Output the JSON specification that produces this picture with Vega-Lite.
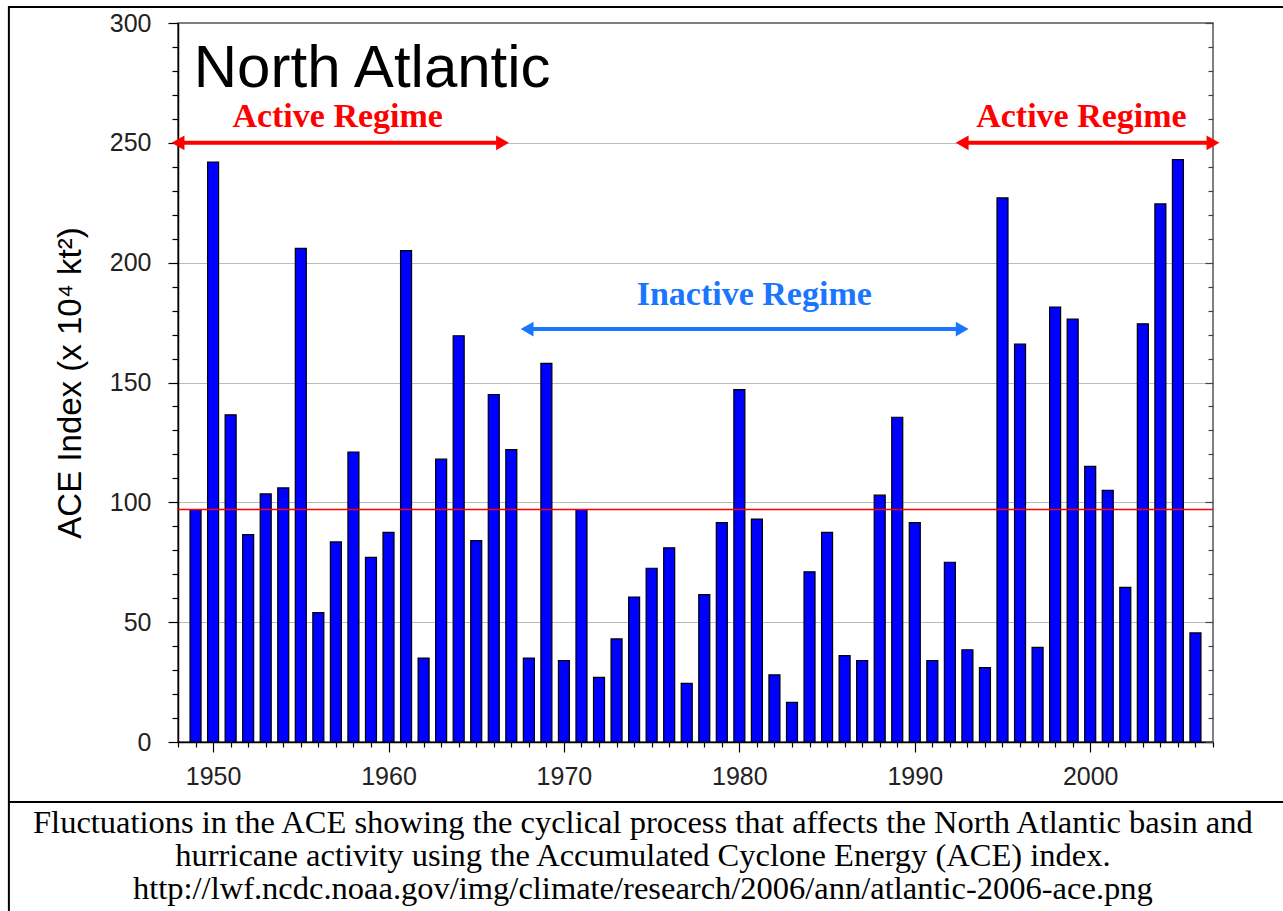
{
  "$schema": "https://vega.github.io/schema/vega-lite/v6.json",
  "width": 1035,
  "height": 719,
  "autosize": {"type": "none"},
  "padding": {"left": 178, "top": 23, "right": 70, "bottom": 169},
  "background": "white",
  "config": {
    "view": {"stroke": "#555555", "strokeWidth": 1.5},
    "font": "Liberation Sans"
  },
  "datasets": {
    "ace": [
      {"year": 1949, "ace": 97}, {"year": 1950, "ace": 242}, {"year": 1951, "ace": 136.5},
      {"year": 1952, "ace": 86.5}, {"year": 1953, "ace": 103.5}, {"year": 1954, "ace": 106},
      {"year": 1955, "ace": 206}, {"year": 1956, "ace": 54}, {"year": 1957, "ace": 83.5},
      {"year": 1958, "ace": 121}, {"year": 1959, "ace": 77}, {"year": 1960, "ace": 87.5},
      {"year": 1961, "ace": 205}, {"year": 1962, "ace": 35}, {"year": 1963, "ace": 118},
      {"year": 1964, "ace": 169.5}, {"year": 1965, "ace": 84}, {"year": 1966, "ace": 145},
      {"year": 1967, "ace": 122}, {"year": 1968, "ace": 35}, {"year": 1969, "ace": 158},
      {"year": 1970, "ace": 34}, {"year": 1971, "ace": 97}, {"year": 1972, "ace": 27},
      {"year": 1973, "ace": 43}, {"year": 1974, "ace": 60.5}, {"year": 1975, "ace": 72.5},
      {"year": 1976, "ace": 81}, {"year": 1977, "ace": 24.5}, {"year": 1978, "ace": 61.5},
      {"year": 1979, "ace": 91.5}, {"year": 1980, "ace": 147}, {"year": 1981, "ace": 93},
      {"year": 1982, "ace": 28}, {"year": 1983, "ace": 16.5}, {"year": 1984, "ace": 71},
      {"year": 1985, "ace": 87.5}, {"year": 1986, "ace": 36}, {"year": 1987, "ace": 34},
      {"year": 1988, "ace": 103}, {"year": 1989, "ace": 135.5}, {"year": 1990, "ace": 91.5},
      {"year": 1991, "ace": 34}, {"year": 1992, "ace": 75}, {"year": 1993, "ace": 38.5},
      {"year": 1994, "ace": 31}, {"year": 1995, "ace": 227}, {"year": 1996, "ace": 166},
      {"year": 1997, "ace": 39.5}, {"year": 1998, "ace": 181.5}, {"year": 1999, "ace": 176.5},
      {"year": 2000, "ace": 115}, {"year": 2001, "ace": 105}, {"year": 2002, "ace": 64.5},
      {"year": 2003, "ace": 174.5}, {"year": 2004, "ace": 224.5}, {"year": 2005, "ace": 243},
      {"year": 2006, "ace": 45.5}
    ],
    "regimes": [
      {"regime": "Active Regime", "start": 1948, "end": 1966.5, "level": 250, "labelYear": 1957.1, "labelLevel": 256.5},
      {"regime": "Inactive Regime", "start": 1967.9, "end": 1992.7, "level": 172.3, "labelYear": 1980.85, "labelLevel": 182.3},
      {"regime": "Active Regime", "start": 1992.7, "end": 2007, "level": 250, "labelYear": 1999.5, "labelLevel": 256.5}
    ],
    "one": [{"item": "decoration"}]
  },
  "layer": [
    {
      "data": {"name": "one"},
      "mark": {"type": "rect", "fill": null, "filled": false, "stroke": "black", "strokeWidth": 2, "clip": false},
      "encoding": {
        "x": {"datum": 1938.36, "type": "quantitative", "axis": null, "scale": {"domain": [1948, 2007], "nice": false, "zero": false, "padding": 0}},
        "x2": {"datum": 2011.8},
        "y": {"datum": 306.7, "type": "quantitative", "axis": null, "scale": {"domain": [0, 300], "nice": false, "padding": 0}},
        "y2": {"datum": -75}
      }
    },
    {
      "data": {"name": "one"},
      "mark": {"type": "rule", "stroke": "black", "strokeWidth": 2, "clip": false},
      "encoding": {
        "x": {"datum": 1938.36, "type": "quantitative", "axis": null, "scale": {"domain": [1948, 2007], "nice": false, "zero": false, "padding": 0}},
        "x2": {"datum": 2011.8},
        "y": {"datum": -25, "type": "quantitative", "axis": null, "scale": {"domain": [0, 300], "nice": false, "padding": 0}}
      }
    },
    {
      "data": {"name": "one"},
      "mark": {
        "type": "text",
        "text": [
          "Fluctuations in the ACE showing the cyclical process that affects the North Atlantic basin and",
          "hurricane activity using the Accumulated Cyclone Energy (ACE) index.",
          "http://lwf.ncdc.noaa.gov/img/climate/research/2006/ann/atlantic-2006-ace.png"
        ],
        "font": "Liberation Serif",
        "fontSize": 32.5,
        "lineHeight": 32.8,
        "align": "center",
        "baseline": "top",
        "color": "black",
        "clip": false
      },
      "encoding": {
        "x": {"datum": 1974.5, "type": "quantitative", "axis": null, "scale": {"domain": [1948, 2007], "nice": false, "zero": false, "padding": 0}},
        "y": {"datum": -27.3, "type": "quantitative", "axis": null, "scale": {"domain": [0, 300], "nice": false, "padding": 0}}
      }
    },
    {
      "data": {"name": "ace"},
      "mark": {"type": "bar", "size": 11, "fill": "#0000ff", "stroke": "black", "strokeWidth": 1.2},
      "encoding": {
        "x": {
          "field": "year", "type": "quantitative",
          "scale": {"domain": [1948, 2007], "nice": false, "zero": false, "padding": 0},
          "axis": {
            "title": null,
            "values": [1948,1949,1950,1951,1952,1953,1954,1955,1956,1957,1958,1959,1960,1961,1962,1963,1964,1965,1966,1967,1968,1969,1970,1971,1972,1973,1974,1975,1976,1977,1978,1979,1980,1981,1982,1983,1984,1985,1986,1987,1988,1989,1990,1991,1992,1993,1994,1995,1996,1997,1998,1999,2000,2001,2002,2003,2004,2005,2006,2007],
            "labelExpr": "datum.value % 10 === 0 ? '' + datum.value : ''",
            "labelFontSize": 25,
            "labelColor": "#222222",
            "labelPadding": 12,
            "labelFlush": false,
            "labelOverlap": false,
            "domainColor": "black",
            "domainWidth": 1.5,
            "tickColor": "black",
            "tickWidth": 1.2,
            "tickSize": {"condition": {"test": "datum.value % 10 === 0", "value": 10}, "value": 5},
            "grid": false
          }
        },
        "y": {
          "field": "ace", "type": "quantitative",
          "scale": {"domain": [0, 300], "nice": false, "padding": 0},
          "axis": {
            "title": "ACE Index (x 10⁴ kt²)",
            "titleFont": "Liberation Sans",
            "titleFontSize": 33,
            "titleFontWeight": "normal",
            "titleColor": "black",
            "titlePadding": 22,
            "values": [0,10,20,30,40,50,60,70,80,90,100,110,120,130,140,150,160,170,180,190,200,210,220,230,240,250,260,270,280,290,300],
            "labelExpr": "datum.value % 50 === 0 ? datum.label : ''",
            "labelFontSize": 25,
            "labelColor": "#222222",
            "labelPadding": 17,
            "labelOverlap": false,
            "labelFlush": false,
            "domainColor": "black",
            "domainWidth": 1.5,
            "tickColor": "black",
            "tickWidth": 1.2,
            "tickSize": {"condition": {"test": "datum.value % 50 === 0", "value": 10}, "value": 6},
            "grid": true,
            "gridColor": "#bbbbbb",
            "gridWidth": 1.2,
            "gridOpacity": {"condition": {"test": "datum.value % 50 === 0 && datum.value > 0 && datum.value < 300", "value": 1}, "value": 0}
          }
        }
      }
    },
    {
      "data": {"name": "ace"},
      "mark": {"type": "bar", "size": 11, "opacity": 0},
      "encoding": {
        "x": {"field": "year", "type": "quantitative", "axis": null, "scale": {"domain": [1948, 2007], "nice": false, "zero": false, "padding": 0}},
        "y": {
          "field": "ace", "type": "quantitative",
          "scale": {"domain": [0, 300], "nice": false, "padding": 0},
          "axis": {
            "orient": "right",
            "title": null,
            "labels": false,
            "domain": false,
            "grid": false,
            "values": [0,10,20,30,40,50,60,70,80,90,100,110,120,130,140,150,160,170,180,190,200,210,220,230,240,250,260,270,280,290,300],
            "tickColor": "#444444",
            "tickWidth": 1.2,
            "tickSize": {"condition": {"test": "datum.value % 50 === 0", "value": -8}, "value": -5}
          }
        }
      }
    },
    {
      "data": {"name": "one"},
      "mark": {"type": "rule", "stroke": "#ff0000", "strokeWidth": 1.5},
      "encoding": {
        "y": {"datum": 97, "type": "quantitative", "axis": null, "scale": {"domain": [0, 300], "nice": false, "padding": 0}}
      }
    },
    {
      "data": {"name": "one"},
      "mark": {"type": "text", "text": "North Atlantic", "font": "Liberation Sans", "fontSize": 60, "align": "left", "baseline": "alphabetic", "color": "black"},
      "encoding": {
        "x": {"datum": 1948.9, "type": "quantitative", "axis": null, "scale": {"domain": [1948, 2007], "nice": false, "zero": false, "padding": 0}},
        "y": {"datum": 273.3, "type": "quantitative", "axis": null, "scale": {"domain": [0, 300], "nice": false, "padding": 0}}
      }
    },
    {
      "data": {"name": "regimes"},
      "mark": {"type": "rule", "strokeWidth": 4, "clip": false},
      "encoding": {
        "x": {"field": "start", "type": "quantitative", "axis": null, "scale": {"domain": [1948, 2007], "nice": false, "zero": false, "padding": 0}},
        "x2": {"field": "end"},
        "y": {"field": "level", "type": "quantitative", "axis": null, "scale": {"domain": [0, 300], "nice": false, "padding": 0}},
        "color": {"field": "regime", "type": "nominal", "legend": null, "scale": {"domain": ["Active Regime", "Inactive Regime"], "range": ["#ff0000", "#1a75ff"]}}
      }
    },
    {
      "data": {"name": "regimes"},
      "mark": {"type": "point", "shape": "triangle-left", "filled": true, "size": 220, "opacity": 1, "dx": 6, "clip": false},
      "encoding": {
        "x": {"field": "start", "type": "quantitative", "axis": null, "scale": {"domain": [1948, 2007], "nice": false, "zero": false, "padding": 0}},
        "y": {"field": "level", "type": "quantitative", "axis": null, "scale": {"domain": [0, 300], "nice": false, "padding": 0}},
        "color": {"field": "regime", "type": "nominal", "legend": null, "scale": {"domain": ["Active Regime", "Inactive Regime"], "range": ["#ff0000", "#1a75ff"]}}
      }
    },
    {
      "data": {"name": "regimes"},
      "mark": {"type": "point", "shape": "triangle-right", "filled": true, "size": 220, "opacity": 1, "dx": -6, "clip": false},
      "encoding": {
        "x": {"field": "end", "type": "quantitative", "axis": null, "scale": {"domain": [1948, 2007], "nice": false, "zero": false, "padding": 0}},
        "y": {"field": "level", "type": "quantitative", "axis": null, "scale": {"domain": [0, 300], "nice": false, "padding": 0}},
        "color": {"field": "regime", "type": "nominal", "legend": null, "scale": {"domain": ["Active Regime", "Inactive Regime"], "range": ["#ff0000", "#1a75ff"]}}
      }
    },
    {
      "data": {"name": "regimes"},
      "mark": {"type": "text", "font": "Liberation Serif", "fontWeight": "bold", "fontSize": 34, "align": "center", "baseline": "alphabetic"},
      "encoding": {
        "x": {"field": "labelYear", "type": "quantitative", "axis": null, "scale": {"domain": [1948, 2007], "nice": false, "zero": false, "padding": 0}},
        "y": {"field": "labelLevel", "type": "quantitative", "axis": null, "scale": {"domain": [0, 300], "nice": false, "padding": 0}},
        "text": {"field": "regime"},
        "color": {"field": "regime", "type": "nominal", "legend": null, "scale": {"domain": ["Active Regime", "Inactive Regime"], "range": ["#ff0000", "#1a75ff"]}}
      }
    }
  ],
  "resolve": {"axis": {"x": "independent", "y": "independent"}}
}
